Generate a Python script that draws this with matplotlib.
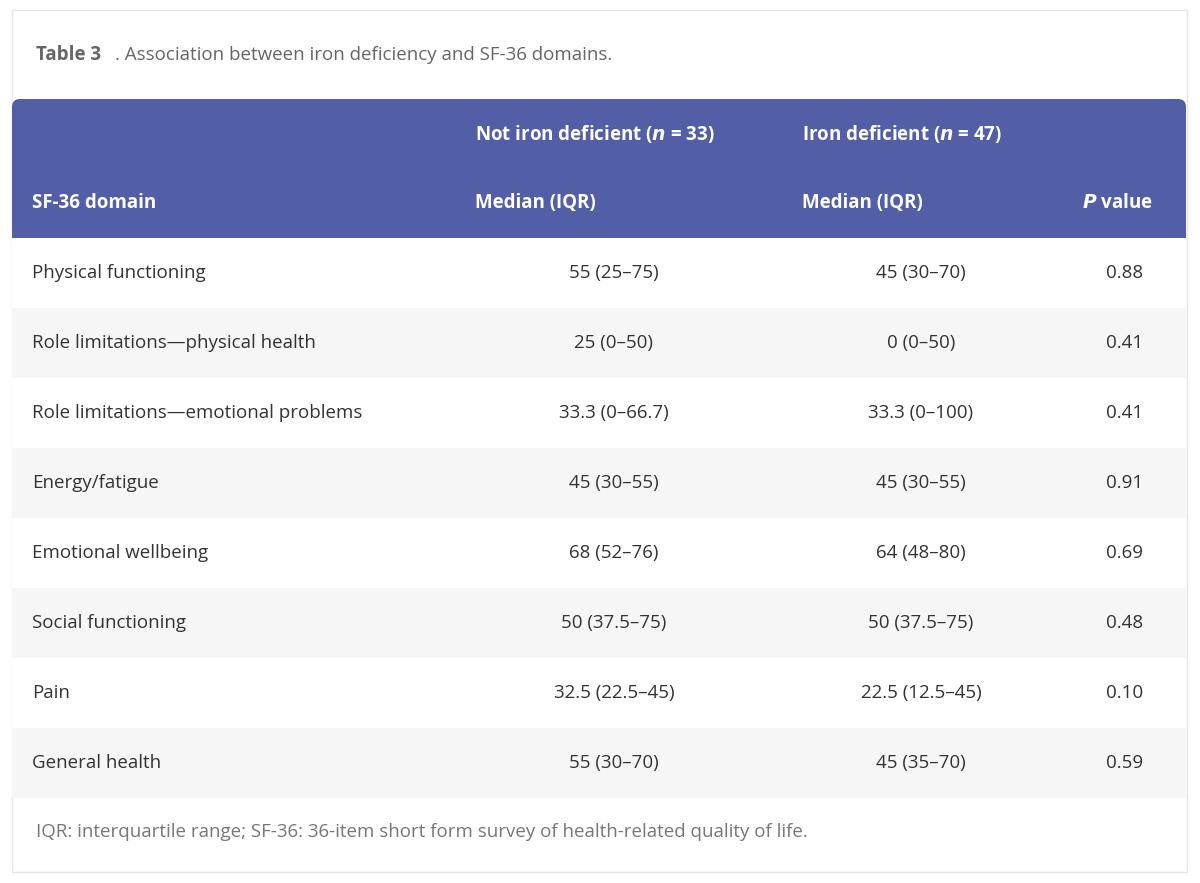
import matplotlib
matplotlib.use("Agg")
import matplotlib.pyplot as plt
from matplotlib.patches import FancyBboxPatch, Rectangle

domains = ["Physical functioning", "Role limitations\u2014physical health",
           "Role limitations\u2014emotional problems", "Energy/fatigue",
           "Emotional wellbeing", "Social functioning", "Pain", "General health"]
not_deficient = ["55 (25\u201375)", "25 (0\u201350)", "33.3 (0\u201366.7)", "45 (30\u201355)",
                 "68 (52\u201376)", "50 (37.5\u201375)", "32.5 (22.5\u201345)", "55 (30\u201370)"]
deficient = ["45 (30\u201370)", "0 (0\u201350)", "33.3 (0\u2013100)", "45 (30\u201355)",
             "64 (48\u201380)", "50 (37.5\u201375)", "22.5 (12.5\u201345)", "45 (35\u201370)"]
p_values = ["0.88", "0.41", "0.41", "0.91", "0.69", "0.48", "0.10", "0.59"]

plt.rcParams['font.family'] = ['Open Sans', 'DejaVu Sans']
fig = plt.figure(figsize=(12, 8.83), dpi=100)
ax = fig.add_axes([0, 0, 1, 1])
ax.set_xlim(0, 1200); ax.set_ylim(883, 0); ax.axis('off')

# card
ax.add_patch(Rectangle((12, 10), 1175, 862, fc='white', ec='#e6e6e6', lw=1))
ax.text(36, 55, "Table 3", fontsize=13.5, fontweight='bold', color='#666666', va='center')
ax.text(36 + 79, 55, ". Association between iron deficiency and SF-36 domains.",
        fontsize=13.5, color='#666666', va='center')

# table shadow + body
ax.add_patch(FancyBboxPatch((13, 101), 1172, 697, boxstyle="round,pad=0,rounding_size=8",
                            fc='#dddddd', ec='none'))
ax.add_patch(FancyBboxPatch((12, 99), 1174, 697, boxstyle="round,pad=0,rounding_size=8",
                            fc='white', ec='none'))
purple = '#525EA6'
ax.add_patch(FancyBboxPatch((12, 99), 1174, 139, boxstyle="round,pad=0,rounding_size=8",
                            fc=purple, ec='none'))
ax.add_patch(Rectangle((12, 200), 1174, 38, fc=purple, ec='none'))

hk = dict(fontsize=13.5, fontweight='bold', color='white', va='center')
ax.text(475, 134, r"Not iron deficient ($\mathbfit{n}$ = 33)", **hk)
ax.text(802, 134, r"Iron deficient ($\mathbfit{n}$ = 47)", **hk)
ax.text(32, 203, "SF-36 domain", **hk)
ax.text(475, 203, "Median (IQR)", **hk)
ax.text(802, 203, "Median (IQR)", **hk)
ax.text(1153, 203, r"$\mathbfit{P}$ value", ha='right', **hk)

row_h = 70
for i, d in enumerate(domains):
    top = 238 + i * row_h
    if i % 2 == 1:
        ax.add_patch(Rectangle((12, top), 1174, row_h, fc='#f6f6f6', ec='none'))
    yc = top + row_h / 2
    kw = dict(fontsize=13.5, color='#333333', va='center')
    ax.text(32, yc, d, **kw)
    ax.text(614, yc, not_deficient[i], ha='center', **kw)
    ax.text(921, yc, deficient[i], ha='center', **kw)
    ax.text(1143, yc, p_values[i], ha='right', **kw)

ax.text(36, 832, "IQR: interquartile range; SF-36: 36-item short form survey of health-related quality of life.",
        fontsize=13.5, color='#777777', va='center')
fig.savefig("out.png", dpi=100)
